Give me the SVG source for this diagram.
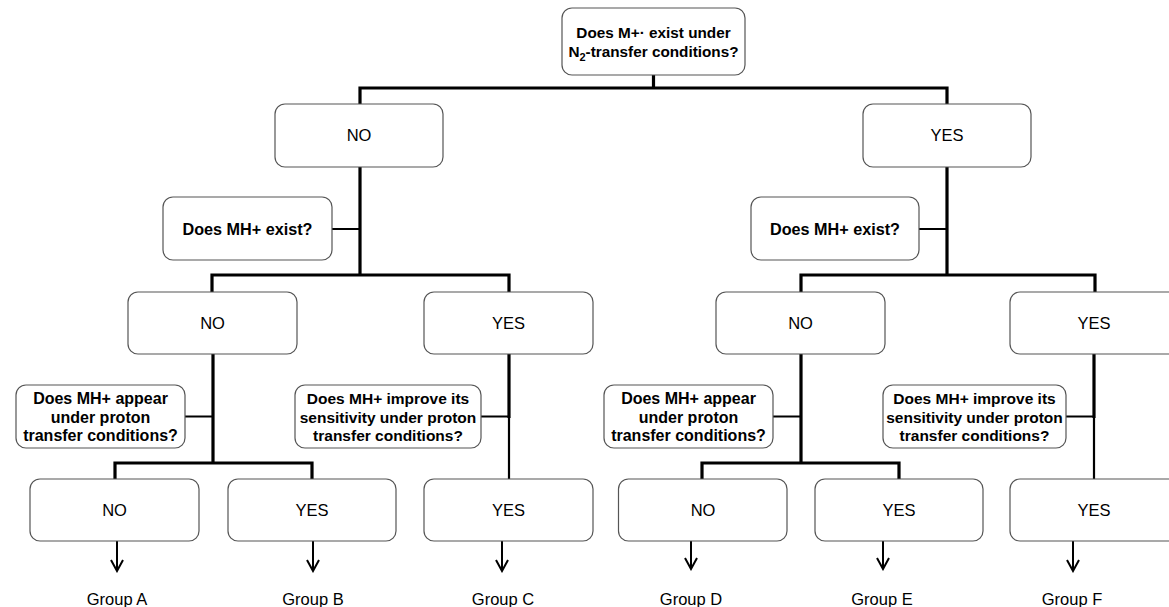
<svg xmlns="http://www.w3.org/2000/svg" width="1169" height="607" viewBox="0 0 1169 607">
<defs>
<style>
.box{fill:#fff;stroke:#555;stroke-width:1.2}
.q{font-family:"Liberation Sans",Arial,sans-serif;font-weight:bold;font-size:16px;fill:#000;text-anchor:middle}
.qt{font-size:15.3px}
.qe{font-size:16.2px}
.qs{font-size:15.5px}
.a{font-family:"Liberation Sans",Arial,sans-serif;font-size:16.5px;fill:#000;text-anchor:middle}
.w{stroke:#000;stroke-width:3.2;fill:none;stroke-linecap:square}
.t{stroke:#000;stroke-width:2.2;fill:none}
.ar{stroke:#000;stroke-width:2;fill:none;marker-end:url(#arr)}
</style>
<marker id="arr" markerUnits="userSpaceOnUse" viewBox="0 0 14 14" refX="12" refY="7" markerWidth="14" markerHeight="14" orient="auto">
<path d="M1,1 L12,7 L1,13" fill="none" stroke="#000" stroke-width="2"/>
</marker>
</defs>
<rect width="1169" height="607" fill="#fff"/>
<g id="connectors">
<path class="w" d="M653.5,75 V88 M360,88 H947 M360,88 V104 M947,88 V104"/>
<path class="w" d="M360,167 V275 M212,275 H509 M212,275 V292 M509,275 V292"/>
<path class="w" d="M947,167 V275 M801,275 H1095 M801,275 V292 M1095,275 V292"/>
<path class="t" d="M332,229 H360 M919,229 H947"/>
<path class="w" d="M213,354 V463 M115,463 H312 M115,463 V479 M312,463 V479"/>
<path class="w" d="M801,354 V463 M702,463 H899 M702,463 V479 M899,463 V479"/>
<path class="t" d="M185,416.5 H213 M773,416.5 H801"/>
<path class="w" d="M509,354 V416.5 M1094,354 V416.5"/>
<path class="t" d="M509,416.5 V479 M1094,416.5 V479 M481,416.5 H509 M1066,416.5 H1094"/>
<line class="ar" x1="117" y1="541" x2="117" y2="571"/>
<line class="ar" x1="313" y1="541" x2="313" y2="571"/>
<line class="ar" x1="502" y1="541" x2="502" y2="571"/>
<line class="ar" x1="691" y1="539" x2="691" y2="569"/>
<line class="ar" x1="883" y1="539" x2="883" y2="569"/>
<line class="ar" x1="1073" y1="541" x2="1073" y2="571"/>
</g>
<g id="root">
<rect class="box" x="562" y="8" width="183" height="67" rx="10"/>
<text class="q qt" x="653.5" y="38">Does M+· exist under</text>
<text class="q qt" x="653.5" y="57">N<tspan font-size="11" dy="4">2</tspan><tspan dy="-4">-transfer conditions?</tspan></text>
</g>
<g id="no1"><rect class="box" x="275" y="104" width="168" height="63" rx="10"/><text class="a" x="359" y="141">NO</text></g>
<g id="yes1"><rect class="box" x="863" y="104" width="168" height="63" rx="10"/><text class="a" x="947" y="141">YES</text></g>
<g id="q2l"><rect class="box" x="163" y="197" width="169" height="63" rx="10"/><text class="q qe" x="247.5" y="234.5">Does MH+ exist?</text></g>
<g id="q2r"><rect class="box" x="751" y="197" width="168" height="63" rx="10"/><text class="q qe" x="835" y="234.5">Does MH+ exist?</text></g>
<g id="no2l"><rect class="box" x="128" y="292" width="169" height="62" rx="10"/><text class="a" x="212.5" y="329">NO</text></g>
<g id="yes2l"><rect class="box" x="424" y="292" width="169" height="62" rx="10"/><text class="a" x="508.5" y="329">YES</text></g>
<g id="no2r"><rect class="box" x="716" y="292" width="169" height="62" rx="10"/><text class="a" x="800.5" y="329">NO</text></g>
<g id="yes2r"><rect class="box" x="1010" y="292" width="170" height="62" rx="10"/><text class="a" x="1094" y="329">YES</text></g>
<g id="q3a"><rect class="box" x="16" y="385" width="169" height="63" rx="10"/>
<text class="q" x="100.5" y="404">Does MH+ appear</text><text class="q" x="100.5" y="422.7">under proton</text><text class="q" x="100.5" y="441.3">transfer conditions?</text></g>
<g id="q3c"><rect class="box" x="295" y="385" width="186" height="63" rx="10"/>
<text class="q qs" x="388" y="404">Does MH+ improve its</text><text class="q qs" x="388" y="422.7">sensitivity under proton</text><text class="q qs" x="388" y="441.3">transfer conditions?</text></g>
<g id="q3d"><rect class="box" x="604" y="385" width="169" height="63" rx="10"/>
<text class="q" x="688.5" y="404">Does MH+ appear</text><text class="q" x="688.5" y="422.7">under proton</text><text class="q" x="688.5" y="441.3">transfer conditions?</text></g>
<g id="q3f"><rect class="box" x="883" y="385" width="183" height="63" rx="10"/>
<text class="q qs" x="974.5" y="404">Does MH+ improve its</text><text class="q qs" x="974.5" y="422.7">sensitivity under proton</text><text class="q qs" x="974.5" y="441.3">transfer conditions?</text></g>
<g id="noA"><rect class="box" x="30" y="479" width="169" height="62" rx="10"/><text class="a" x="114.5" y="516">NO</text></g>
<g id="yesB"><rect class="box" x="228" y="479" width="168" height="62" rx="10"/><text class="a" x="312" y="516">YES</text></g>
<g id="yesC"><rect class="box" x="424" y="479" width="169" height="62" rx="10"/><text class="a" x="508.5" y="516">YES</text></g>
<g id="noD"><rect class="box" x="618.5" y="479" width="168.5" height="62" rx="10"/><text class="a" x="703" y="516">NO</text></g>
<g id="yesE"><rect class="box" x="815" y="479" width="168" height="62" rx="10"/><text class="a" x="899" y="516">YES</text></g>
<g id="yesF"><rect class="box" x="1010" y="479" width="170" height="62" rx="10"/><text class="a" x="1094" y="516">YES</text></g>
<g id="groups">
<text class="a" x="117" y="605">Group A</text>
<text class="a" x="313" y="605">Group B</text>
<text class="a" x="503" y="605">Group C</text>
<text class="a" x="691" y="605">Group D</text>
<text class="a" x="882" y="605">Group E</text>
<text class="a" x="1072" y="605">Group F</text>
</g>
</svg>
